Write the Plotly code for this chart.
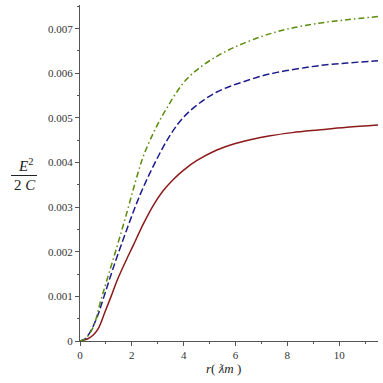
import plotly.graph_objects as go

# ---- data ----
red_x = [0, 0.3, 0.5, 0.7, 0.97, 1.2, 1.42, 1.75, 2.06, 2.45, 2.83, 3.2, 3.6, 4.0, 4.5, 5.28, 5.9, 6.57, 7.34, 8.2, 9.21, 10.3, 11.5]
red_y = [0, 0.00005, 0.00013, 0.00027, 0.00066, 0.00100, 0.00134, 0.00177, 0.00215, 0.00263, 0.00304, 0.00336, 0.00362, 0.00383, 0.00404, 0.00428, 0.00441, 0.00451, 0.00460, 0.00467, 0.00473, 0.00479, 0.00484]

blue_x = [0, 0.2, 0.44, 0.7, 0.9, 1.29, 1.8, 2.32, 2.83, 3.35, 3.8, 4.25, 4.8, 5.28, 5.8, 6.31, 6.96, 7.6, 8.4, 9.21, 10.3, 11.5]
blue_y = [0, 0.00005, 0.00025, 0.00060, 0.00095, 0.00165, 0.00249, 0.00328, 0.00392, 0.00449, 0.00488, 0.00516, 0.00541, 0.00558, 0.00571, 0.00581, 0.00593, 0.00602, 0.00610, 0.00617, 0.00623, 0.00628]

green_x = [0, 0.2, 0.5, 0.8, 1.03, 1.42, 1.8, 2.13, 2.45, 2.83, 3.09, 3.35, 3.7, 4.12, 4.7, 5.28, 5.8, 6.31, 7.09, 8.0, 9.21, 10.3, 11.5]
green_y = [0, 0.00005, 0.00030, 0.00090, 0.00135, 0.00210, 0.00286, 0.00355, 0.00415, 0.00466, 0.00496, 0.00522, 0.00555, 0.00587, 0.00616, 0.00638, 0.00654, 0.00667, 0.00684, 0.00699, 0.00712, 0.00720, 0.00727]

x_tickvals = [0, 2, 4, 6, 8, 10]
x_ticktext = ["0", "2", "4", "6", "8", "10"]
y_tickvals = [0, 0.001, 0.002, 0.003, 0.004, 0.005, 0.006, 0.007]
y_ticktext = ["0", "0.001", "0.002", "0.003", "0.004", "0.005", "0.006", "0.007"]

serif = "Times New Roman, Liberation Serif, DejaVu Serif, serif"

fig = go.Figure()
fig.add_trace(go.Scatter(x=red_x, y=red_y, mode="lines", line_shape="spline",
                         line=dict(color="#8c1a1a", width=1.5, smoothing=1.0)))
fig.add_trace(go.Scatter(x=blue_x, y=blue_y, mode="lines", line_shape="spline",
                         line=dict(color="#1c1c8c", width=1.5, dash="7px,3px", smoothing=1.0)))
fig.add_trace(go.Scatter(x=green_x, y=green_y, mode="lines", line_shape="spline",
                         line=dict(color="#5a8c0c", width=1.5, dash="6px,3px,1.5px,3px", smoothing=1.0)))

axis_common = dict(showgrid=False, zeroline=False, showline=True, linecolor="#555555",
                   linewidth=1, ticks="outside", ticklen=4, tickcolor="#555555",
                   automargin=False,
                   tickfont=dict(family=serif, size=11, color="#333333"))

fig.update_xaxes(range=[0, 11.5], tickvals=x_tickvals, ticktext=x_ticktext,
                 minor=dict(dtick=1, ticklen=2, ticks="outside", tickcolor="#555555"),
                 **axis_common)
fig.update_yaxes(range=[0, 0.00753], tickvals=y_tickvals, ticktext=y_ticktext,
                 minor=dict(dtick=0.0005, ticklen=2, ticks="outside", tickcolor="#555555"),
                 **axis_common)

W, H = 383, 383
L, R, T, B = 80, 5, 5, 42
pw, ph = W - L - R, H - T - B

def px_x(p):
    return (p - L) / pw

def px_y(p):
    return (H - B - p) / ph

annotations = [
    dict(text="<i>E</i><sup>2</sup>", x=px_x(25), y=px_y(165), xref="paper", yref="paper",
         showarrow=False, xanchor="center", yanchor="middle",
         font=dict(family=serif, size=15, color="#222222")),
    dict(text="2 <i>C</i>", x=px_x(25), y=px_y(185), xref="paper", yref="paper",
         showarrow=False, xanchor="center", yanchor="middle",
         font=dict(family=serif, size=15, color="#222222")),
    dict(text="<i>r</i>( <i>ƛm</i> )", x=px_x(223), y=px_y(368), xref="paper", yref="paper",
         showarrow=False, xanchor="center", yanchor="middle",
         font=dict(family=serif, size=13, color="#222222")),
]

shapes = [
    dict(type="line", xref="paper", yref="paper", x0=px_x(11), x1=px_x(37),
         y0=px_y(175.5), y1=px_y(175.5), line=dict(color="#222222", width=1)),
]

fig.update_layout(template="none", width=W, height=H, margin=dict(l=L, r=R, t=T, b=B, pad=0),
                  plot_bgcolor="white", paper_bgcolor="white", showlegend=False,
                  font=dict(family=serif),
                  annotations=annotations, shapes=shapes, hovermode=False)

fig.write_html("out.html", config={"displayModeBar": False, "staticPlot": True},
               post_script="document.body.style.margin='0';")
